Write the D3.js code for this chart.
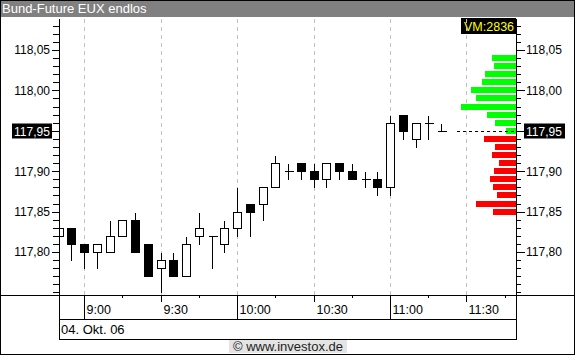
<!DOCTYPE html>
<html>
<head>
<meta charset="utf-8">
<script src="https://cdn.jsdelivr.net/npm/d3@7"></script>
<style>
  body { margin: 0; background: #fff; }
  svg { display: block; font-family: "Liberation Sans", Arial, sans-serif; }
  .axis path { display: none; }
  .axis line { stroke: #000; shape-rendering: crispEdges; }
  .axis text { fill: #000; font-size: 12px; }
  .grid line { stroke: #c0c0c0; stroke-dasharray: 4,4; shape-rendering: crispEdges; }
  .grid text, .grid path { display: none; }
</style>
</head>
<body>
<svg width="575" height="355"></svg>
<script>
// 5 minute candles, 04.10.2006
var times = ["08:50", "08:55", "09:00", "09:05", "09:10", "09:15", "09:20", "09:25", "09:30", "09:35",
  "09:40", "09:45", "09:50", "09:55", "10:00", "10:05", "10:10", "10:15", "10:20", "10:25",
  "10:30", "10:35", "10:40", "10:45", "10:50", "10:55", "11:00", "11:05", "11:10", "11:15", "11:20"];
var opens = [117.82, 117.83, 117.81, 117.80, 117.80, 117.82, 117.84, 117.81, 117.78, 117.79,
  117.77, 117.82, 117.82, 117.81, 117.83, 117.86, 117.86, 117.88, 117.90, 117.91,
  117.90, 117.89, 117.91, 117.90, 117.89, 117.89, 117.88, 117.97, 117.94, 117.96, 117.95];
var highs = [117.83, 117.83, 117.81, 117.81, 117.84, 117.84, 117.85, 117.81, 117.80, 117.80,
  117.82, 117.85, 117.82, 117.84, 117.88, 117.86, 117.88, 117.92, 117.91, 117.91,
  117.91, 117.91, 117.91, 117.91, 117.90, 117.90, 117.97, 117.97, 117.96, 117.97, 117.96];
var lows = [117.82, 117.79, 117.78, 117.78, 117.80, 117.82, 117.80, 117.77, 117.75, 117.77,
  117.77, 117.81, 117.78, 117.80, 117.82, 117.82, 117.84, 117.88, 117.89, 117.89,
  117.88, 117.88, 117.89, 117.89, 117.88, 117.87, 117.87, 117.94, 117.93, 117.94, 117.95];
var closes = [117.83, 117.81, 117.80, 117.81, 117.82, 117.84, 117.80, 117.77, 117.79, 117.77,
  117.81, 117.83, 117.82, 117.83, 117.85, 117.85, 117.88, 117.91, 117.90, 117.90,
  117.89, 117.91, 117.90, 117.89, 117.89, 117.88, 117.96, 117.95, 117.96, 117.96, 117.95];

// volume profile (price level -> volume)
var profilePrices = [118.04, 118.03, 118.02, 118.01, 118.00, 117.99, 117.98, 117.97, 117.96, 117.95,
  117.94, 117.93, 117.92, 117.91, 117.90, 117.89, 117.88, 117.87, 117.86, 117.85];
var profileVolumes = [1240, 1120, 1600, 1740, 2320, 2060, 2836, 1500, 1080, 520,
  1650, 1080, 1240, 860, 1130, 1340, 1190, 980, 2060, 1190];
var volumeMax = 2836;
var lastPrice = 117.95;

var priceTicks = [117.80, 117.85, 117.90, 117.95, 118.00, 118.05];
var timeTicks = ["09:00", "09:30", "10:00", "10:30", "11:00", "11:30"];
var hourTicks = ["09:00", "10:00", "11:00"];
var quarterTicks = ["09:15", "09:45", "10:15", "10:45", "11:15", "11:45"];
var title = "Bund-Future EUX endlos";
var dateLabel = "04. Okt. 06";

main();

function main() {
  var svg = d3.select("svg"),
    plotLeft = 59,
    plotRight = 516,
    plotTop = 17,
    plotBottom = 295;

  var parseTime = d3.timeParse("%H:%M");
  var de = d3.formatLocale({ decimal: ",", thousands: ".", grouping: [3], currency: ["", " €"] });
  var fmtPrice = de.format(".2f");

  var candles = times.map(function(t, i) {
    return { time: parseTime(t), open: opens[i], high: highs[i], low: lows[i], close: closes[i] };
  });

  var x = d3.scaleTime()
    .domain([parseTime("08:50"), parseTime("11:50")])
    .range([59, 518]);

  var y = d3.scaleLinear()
    .domain([117.80, 118.05])
    .range([252, 50]);

  var vx = d3.scaleLinear()
    .domain([0, volumeMax])
    .range([0, 55]);

  function px(v) { return Math.floor(v) + 0.5; }
  function py(v) { return Math.round(y(v)) + 0.5; }

  // title bar
  svg.append("rect")
    .attr("x", 0).attr("y", 0)
    .attr("width", 575).attr("height", plotTop)
    .attr("fill", "#808080");
  svg.append("text")
    .attr("x", 2).attr("y", 13)
    .attr("fill", "#fff")
    .style("font-size", "13px")
    .text(title);

  // VM box
  svg.append("rect")
    .attr("x", 461).attr("y", 18)
    .attr("width", 55).attr("height", 16)
    .attr("fill", "#000");
  svg.append("text")
    .attr("x", 464).attr("y", 30.5)
    .attr("fill", "#ffff00")
    .style("font-size", "12.5px")
    .text("VM:" + volumeMax);

  // vertical dashed grid
  svg.append("g")
    .attr("class", "grid")
    .attr("transform", "translate(0," + plotBottom + ")")
    .call(d3.axisBottom(x)
      .tickValues(timeTicks.map(parseTime))
      .tickSize(-(plotBottom - 19))
      .offset(0)
      .tickFormat(""))
    .selectAll(".tick")
    .attr("transform", function(d) { return "translate(" + px(x(d)) + ",0)"; });

  svg.append("clipPath")
    .attr("id", "plot")
    .append("rect")
    .attr("x", plotLeft + 1).attr("y", plotTop)
    .attr("width", plotRight - plotLeft - 1).attr("height", plotBottom - plotTop);

  var group = svg.append("g").attr("clip-path", "url(#plot)");

  // volume profile
  group.selectAll(".vol")
    .data(profilePrices)
    .enter()
    .append("rect")
    .attr("class", "vol")
    .attr("x", function(d, i) { return plotRight - Math.round(vx(profileVolumes[i])); })
    .attr("y", function(d) { return Math.round(y(d)) - 3; })
    .attr("width", function(d, i) { return Math.round(vx(profileVolumes[i])); })
    .attr("height", 6)
    .attr("fill", function(d) { return d >= lastPrice ? "#00ff00" : "#ff0000"; })
    .style("shape-rendering", "crispEdges");

  // last price line
  group.append("line")
    .attr("x1", 457).attr("x2", plotRight)
    .attr("y1", py(lastPrice)).attr("y2", py(lastPrice))
    .attr("stroke", "#000")
    .attr("stroke-dasharray", "3,3")
    .style("shape-rendering", "crispEdges");

  // candles
  var candle = group.selectAll(".candle")
    .data(candles)
    .enter()
    .append("g")
    .attr("class", "candle")
    .style("shape-rendering", "crispEdges");

  candle.append("line")
    .attr("x1", function(d) { return px(x(d.time)); })
    .attr("x2", function(d) { return px(x(d.time)); })
    .attr("y1", function(d) { return py(d.high); })
    .attr("y2", function(d) { return py(d.low); })
    .attr("stroke", "#000");

  candle.filter(function(d) { return d.open != d.close; })
    .append("rect")
    .attr("x", function(d) { return px(x(d.time)) - 4; })
    .attr("y", function(d) { return py(Math.max(d.open, d.close)); })
    .attr("width", 8)
    .attr("height", function(d) { return py(Math.min(d.open, d.close)) - py(Math.max(d.open, d.close)); })
    .attr("fill", function(d) { return d.close > d.open ? "#fff" : "#000"; })
    .attr("stroke", "#000");

  candle.filter(function(d) { return d.open == d.close; })
    .append("line")
    .attr("x1", function(d) { return px(x(d.time)) - 4; })
    .attr("x2", function(d) { return px(x(d.time)) + 5; })
    .attr("y1", function(d) { return py(d.close); })
    .attr("y2", function(d) { return py(d.close); })
    .attr("stroke", "#000");

  // price axes
  var minorTicks = d3.range(11775, 11809).map(function(v) { return v / 100; });

  svg.append("g")
    .attr("class", "axis")
    .attr("transform", "translate(" + plotLeft + ",0)")
    .call(d3.axisLeft(y).tickValues(minorTicks).tickSize(6).tickFormat(""));
  svg.append("g")
    .attr("class", "axis")
    .attr("transform", "translate(" + plotLeft + ",0)")
    .call(d3.axisLeft(y).tickValues(priceTicks).tickSize(7).tickPadding(2).tickFormat(fmtPrice));

  svg.append("g")
    .attr("class", "axis")
    .attr("transform", "translate(" + plotRight + ",0)")
    .call(d3.axisRight(y).tickValues(minorTicks).tickSize(5).tickFormat(""));
  svg.append("g")
    .attr("class", "axis")
    .attr("transform", "translate(" + plotRight + ",0)")
    .call(d3.axisRight(y).tickValues(priceTicks).tickSize(9).tickPadding(1).tickFormat(fmtPrice));

  // last price labels
  [{ x: 12, w: 40 }, { x: 524, w: 41 }].forEach(function(b) {
    svg.append("rect")
      .attr("x", b.x).attr("y", py(lastPrice) - 8)
      .attr("width", b.w).attr("height", 15)
      .attr("fill", "#000");
    svg.append("text")
      .attr("x", b.x + 2).attr("y", py(lastPrice) + 4)
      .attr("fill", "#fff")
      .style("font-size", "12px")
      .text(fmtPrice(lastPrice));
  });

  // frame lines
  var frame = svg.append("g")
    .attr("stroke", "#000")
    .attr("fill", "none")
    .style("shape-rendering", "crispEdges");
  frame.append("line").attr("x1", plotLeft + 0.5).attr("x2", plotLeft + 0.5).attr("y1", 19).attr("y2", 339.5);
  frame.append("line").attr("x1", plotRight + 0.5).attr("x2", plotRight + 0.5).attr("y1", 19).attr("y2", 339.5);
  frame.append("line").attr("x1", 0).attr("x2", 575).attr("y1", plotBottom + 0.5).attr("y2", plotBottom + 0.5);
  frame.append("line").attr("x1", plotLeft).attr("x2", plotRight + 1).attr("y1", 319.5).attr("y2", 319.5);
  frame.append("line").attr("x1", plotLeft).attr("x2", plotRight + 1).attr("y1", 339.5).attr("y2", 339.5);
  frame.append("rect").attr("x", 0.5).attr("y", 0.5).attr("width", 574).attr("height", 354);

  // time axis
  var timeAxis = svg.append("g")
    .attr("class", "axis")
    .attr("transform", "translate(0," + plotBottom + ")");
  timeAxis.append("g")
    .call(d3.axisBottom(x).tickValues(quarterTicks.map(parseTime)).tickSize(3).offset(0).tickFormat(""));
  timeAxis.append("g")
    .call(d3.axisBottom(x).tickValues(hourTicks.map(parseTime)).tickSize(24).offset(0).tickFormat(""));
  timeAxis.append("g")
    .call(d3.axisBottom(x).tickValues(timeTicks.map(parseTime)).tickSize(7).offset(0).tickFormat(d3.timeFormat("%-H:%M")))
    .selectAll("text")
    .attr("text-anchor", "start")
    .attr("x", 2)
    .attr("y", 10)
    .style("font-size", "12.5px");
  timeAxis.selectAll(".tick")
    .attr("transform", function(d) { return "translate(" + px(x(d)) + ",0)"; });

  svg.append("text")
    .attr("x", 61).attr("y", 334)
    .style("font-size", "13px")
    .text(dateLabel);

  // copyright
  svg.append("rect")
    .attr("x", 229).attr("y", 340)
    .attr("width", 118).attr("height", 13)
    .attr("fill", "#e4e4e4");
  svg.append("text")
    .attr("x", 288).attr("y", 351)
    .attr("text-anchor", "middle")
    .attr("fill", "#222")
    .style("font-size", "13px")
    .text("\u00a9 www.investox.de");
}
</script>
</body>
</html>
